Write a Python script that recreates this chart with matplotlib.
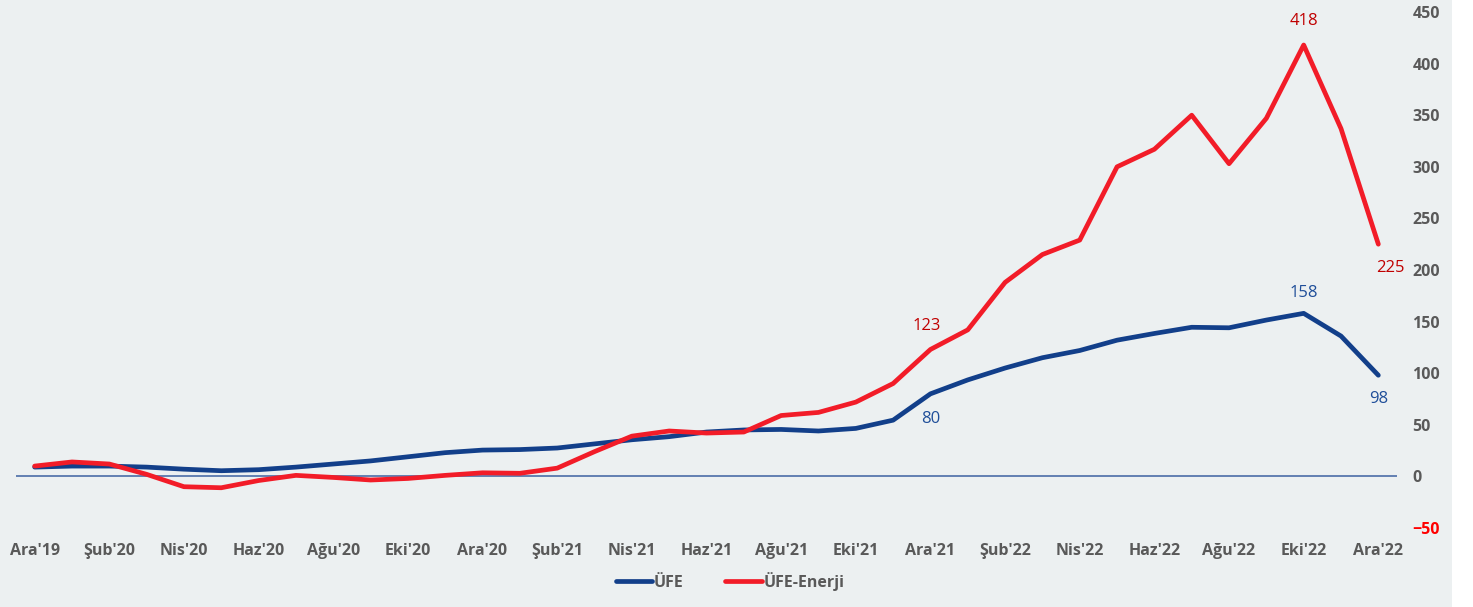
import matplotlib
matplotlib.use("Agg")
import matplotlib.pyplot as plt
from matplotlib.patches import Rectangle

plt.rcParams["font.family"] = ["Open Sans", "DejaVu Sans"]

MONTHS = ["Oca", "Şub", "Mar", "Nis", "May", "Haz",
          "Tem", "Ağu", "Eyl", "Eki", "Kas", "Ara"]

# Dec 2019 .. Dec 2022, monthly
labels = ["Ara'19"] + [f"{m}'{y}" for y in (20, 21, 22) for m in MONTHS]

ufe = [9, 10, 10, 9, 7, 5.5, 6.5, 9, 12, 15, 19, 23,
       25.5, 26, 27.5, 31.5, 35.5, 38.5, 43, 45, 45.5, 44, 46.5, 54.5,
       80, 93.5, 105, 115, 122, 132, 138.5, 144.5, 144, 151.5, 158, 136, 98]

ufe_enerji = [10, 14, 12, 2, -10, -11, -4, 1, -1, -3.5, -2, 1,
              3.5, 3, 8, 24, 39, 44, 42, 43, 59, 62, 72, 90,
              123, 142, 188, 215, 229, 300, 317, 350, 303, 347, 418, 337, 225]

BLUE = "#123F8A"
RED = "#F21C28"
BG = "#ECF0F1"
GRAY = "#595959"

fig = plt.figure(figsize=(14.73, 6.07), dpi=100)
fig.patch.set_facecolor("white")
fig.patches.append(Rectangle((0, 0), 1452 / 1473, 1, transform=fig.transFigure,
                             facecolor=BG, edgecolor="none", zorder=-10))

ax = fig.add_axes([16 / 1473, 79 / 607, (1397 - 16) / 1473, (528 - 12) / 607])
ax.set_facecolor("none")

x = list(range(len(labels)))
ax.plot(x, ufe, color=BLUE, linewidth=3.4, label="ÜFE", zorder=3, solid_capstyle="round")
ax.plot(x, ufe_enerji, color=RED, linewidth=3.4, label="ÜFE-Enerji", zorder=3, solid_capstyle="round")
ax.axhline(0, color="#4A6DA7", linewidth=1.2, zorder=2)

ax.set_xlim(-0.5, len(labels) - 0.5)
ax.set_ylim(-50, 450)
for s in ax.spines.values():
    s.set_visible(False)

ax.set_xticks(x[::2])
ax.set_xticklabels(labels[::2], fontsize=11.5, fontweight="bold", color=GRAY)
ax.tick_params(axis="x", length=0, pad=11)

ax.yaxis.tick_right()
ax.set_yticks(range(-50, 451, 50))
ax.tick_params(axis="y", length=0, pad=11)
for t in ax.get_yticklabels():
    t.set_fontsize(11.5)
    t.set_fontweight("bold")
    t.set_color("red" if t.get_text().startswith(("-", "−")) else GRAY)
    t.set_horizontalalignment("left")

# data labels
notes = [
    (ufe_enerji, 24, (-3, 17), "#C00000"),
    (ufe, 24, (0, -18), "#1F4E99"),
    (ufe_enerji, 34, (0, 17), "#C00000"),
    (ufe, 34, (0, 15), "#1F4E99"),
    (ufe_enerji, 36, (9, -17), "#C00000"),
    (ufe, 36, (0, -17), "#1F4E99"),
]
for series, i, off, col in notes:
    ax.annotate(f"{series[i]:.0f}", (i, series[i]), xytext=off, textcoords="offset points",
                ha="center", va="center", fontsize=12, color=col)

ax.legend(loc="upper center", bbox_to_anchor=(0.517, -0.057), ncol=2, frameon=False,
          handlelength=2.3, columnspacing=2.6, handletextpad=0.1,
          prop={"size": 11.5, "weight": "bold"}, labelcolor=GRAY)

fig.savefig("out.png", dpi=100, facecolor=fig.get_facecolor())
